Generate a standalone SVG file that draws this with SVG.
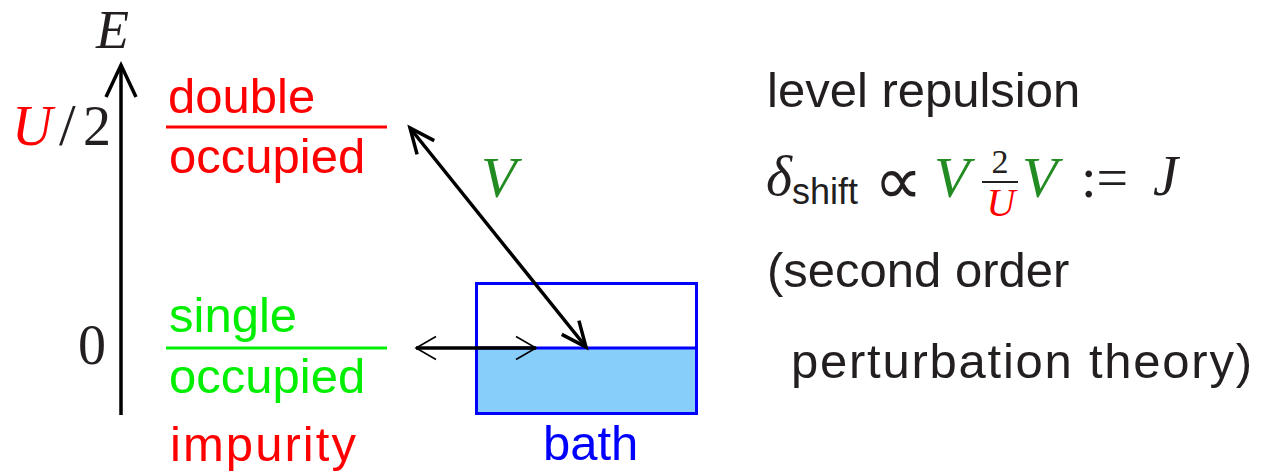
<svg xmlns="http://www.w3.org/2000/svg" width="1262" height="474" viewBox="0 0 1262 474">
<style>
.sans{font-family:"Liberation Sans",Arial,sans-serif;font-size:49px}
.math{font-family:"Liberation Serif","Times New Roman",serif;font-size:56px;font-style:italic}
.num{font-family:"Liberation Serif","Times New Roman",serif;font-size:56px}
.ink{fill:#231f20}
.red{fill:#ff0000}
.lime{fill:#00ee00}
.fgreen{fill:#228b22}
.blue{fill:#0000ff}
.arrow{fill:none;stroke:#000;stroke-width:3.5}
</style>
<defs>
<marker id="headL" markerUnits="userSpaceOnUse" orient="auto-start-reverse" refX="0" refY="0" markerWidth="1" markerHeight="1" overflow="visible">
<path d="M-32,-15 L0,0 L-32,15" fill="none" stroke="#000" stroke-width="3.5"/>
</marker>
<marker id="headM" markerUnits="userSpaceOnUse" orient="auto-start-reverse" refX="0" refY="0" markerWidth="1" markerHeight="1" overflow="visible">
<path d="M-25,-11 L0,0 L-25,11" fill="none" stroke="#000" stroke-width="3.5"/>
</marker>
<marker id="headT" markerUnits="userSpaceOnUse" orient="auto-start-reverse" refX="0" refY="0" markerWidth="1" markerHeight="1" overflow="visible">
<path d="M-20,-11.5 L0,0 L-20,11.5" fill="none" stroke="#000" stroke-width="1.6"/>
</marker>
</defs>

<g id="energy-axis">
<line x1="121" y1="415" x2="121" y2="65" class="arrow" marker-end="url(#headL)"/>
<text x="96" y="48" class="math ink" style="font-size:54px">E</text>
<text x="12" y="145" class="math red">U</text>
<text x="59" y="145" class="num ink" style="font-size:60px">/</text>
<text x="83" y="145" class="num ink">2</text>
<text x="78" y="364" class="num ink">0</text>
</g>

<g id="double-level">
<text x="168" y="113" class="sans red">double</text>
<line x1="166" y1="127" x2="387" y2="127" stroke="#ff0000" stroke-width="3"/>
<text x="169" y="173" class="sans red">occupied</text>
</g>

<g id="single-level">
<text x="169" y="332" class="sans lime">single</text>
<line x1="166" y1="348" x2="387" y2="348" stroke="#00ee00" stroke-width="3"/>
<text x="169" y="393" class="sans lime">occupied</text>
<text x="170" y="461" class="sans red" textLength="186" lengthAdjust="spacing">impurity</text>
</g>

<g id="bath">
<rect x="476.5" y="348" width="220" height="65.5" fill="#87cefa"/>
<rect x="476.5" y="283.5" width="220" height="130" fill="none" stroke="#0000ff" stroke-width="3"/>
<line x1="476.5" y1="348" x2="696.5" y2="348" stroke="#0000ff" stroke-width="3"/>
<text x="543" y="460" class="sans blue">bath</text>
</g>

<g id="connectors">
<line x1="410" y1="128" x2="586" y2="347" class="arrow" marker-start="url(#headM)" marker-end="url(#headM)"/>
<text x="481" y="197" class="math fgreen" style="font-size:58px">V</text>
<line x1="416" y1="348" x2="536" y2="348" class="arrow" marker-start="url(#headT)" marker-end="url(#headT)"/>
</g>

<g id="explanation">
<text x="767" y="107" class="sans ink">level repulsion</text>
<text x="766" y="195" class="math ink">δ</text>
<text x="792" y="204" class="sans ink" style="font-size:36px">shift</text>
<text x="898" y="204" text-anchor="middle" class="ink" style="font-family:'DejaVu Sans',sans-serif;font-size:68px;font-weight:200">∝</text>
<text x="934" y="197" class="math fgreen" style="font-size:58px">V</text>
<text x="1000" y="173" text-anchor="middle" class="num ink" style="font-size:34px">2</text>
<line x1="982" y1="182" x2="1018" y2="182" stroke="#231f20" stroke-width="2"/>
<text x="1001" y="216" text-anchor="middle" class="math red" style="font-size:40px">U</text>
<text x="1022" y="197" class="math fgreen" style="font-size:58px">V</text>
<text x="1081" y="197" class="num ink">:=</text>
<text x="1153" y="195" class="math ink">J</text>
<text x="767" y="287" class="sans ink">(second order</text>
<text x="791" y="378" class="sans ink" textLength="461" lengthAdjust="spacing">perturbation theory)</text>
</g>
</svg>
